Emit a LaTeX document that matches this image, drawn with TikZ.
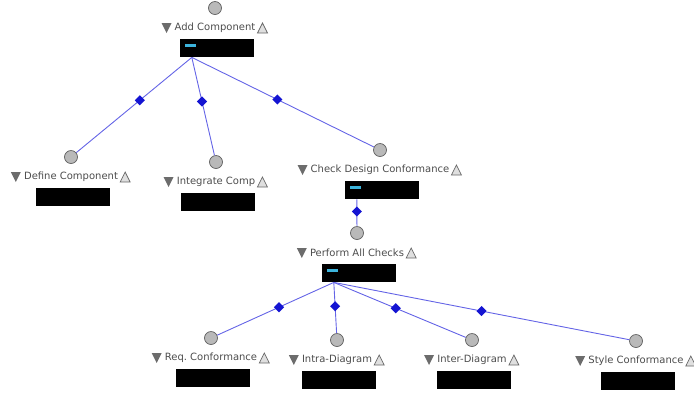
\documentclass[tikz,border=0pt]{standalone}
\usepackage{fontspec}
\setmainfont{DejaVu Sans}
\usetikzlibrary{shapes.geometric}
\definecolor{linkc}{RGB}{100,100,230}
\definecolor{diamc}{RGB}{20,20,210}
\definecolor{markc}{RGB}{60,180,220}
\tikzset{
 bub/.style={circle,draw=gray!75!black,fill=gray!55,minimum size=13pt,inner sep=0pt,line width=0.7pt},
 lab/.style={font=\fontsize{10}{12}\selectfont,text=black!70,inner sep=0pt},
 blk/.style={fill=black,minimum width=74pt,minimum height=18pt,inner sep=0pt,anchor=north},
 link/.style={draw=linkc,line width=0.9pt},
 diam/.style={diamond,fill=diamc,minimum size=10.5pt,inner sep=0pt},
 tridown/.style={fill=gray!85!black},
 triup/.style={draw=gray!80!black,fill=gray!25,line width=0.7pt},
 cyanmark/.style={fill=markc}
}
\newcommand\tnode[5]{%
 \node[bub] (#1c) at (#2,#3) {};
 \node[lab] (#1l) at (#2,#3+20) {#4};
 \node[blk] (#1r) at (#2+2,#3+31) {};
 \fill[tridown] ([xshift=-13pt,yshift=5pt]#1l.west) -- ++(10,0) -- ++(-5,10) -- cycle;
 \draw[triup] ([xshift=2pt,yshift=-5pt]#1l.east) -- ++(10,0) -- ++(-5,-10) -- cycle;
 \coordinate (#1o) at ([xshift=12pt]#1r.south west);
 \ifx#5y\fill[cyanmark] ([xshift=5pt,yshift=-5pt]#1r.north west) rectangle ++(11,3);\fi
}
\begin{document}
\begin{tikzpicture}[x=1pt,y=-1pt]
\useasboundingbox (0,0) rectangle (694,392);
\tnode{root}{215}{8}{Add Component}{y}
\tnode{def}{71}{157}{Define Component}{n}
\tnode{int}{216}{162}{Integrate Comp}{n}
\tnode{chk}{380}{150}{Check Design Conformance}{y}
\tnode{per}{357}{233}{Perform All Checks}{y}
\tnode{req}{211}{338}{Req.\ Conformance}{n}
\tnode{intra}{337}{340}{Intra-Diagram}{n}
\tnode{inter}{472}{340}{Inter-Diagram}{n}
\tnode{sty}{636}{341}{Style Conformance}{n}
\path[link] (rooto) -- node[diam,pos=0.45]{} (defc);
\path[link] (rooto) -- node[diam,pos=0.45]{} (intc);
\path[link] (rooto) -- node[diam,pos=0.47]{} (chkc);
\path[link] (chko) -- node[diam,pos=0.45]{} (perc);
\path[link] (pero) -- node[diam,pos=0.47]{} (reqc);
\path[link] (pero) -- node[diam,pos=0.47]{} (intrac);
\path[link] (pero) -- node[diam,pos=0.47]{} (interc);
\path[link] (pero) -- node[diam,pos=0.5]{} (styc);
\end{tikzpicture}
\end{document}
